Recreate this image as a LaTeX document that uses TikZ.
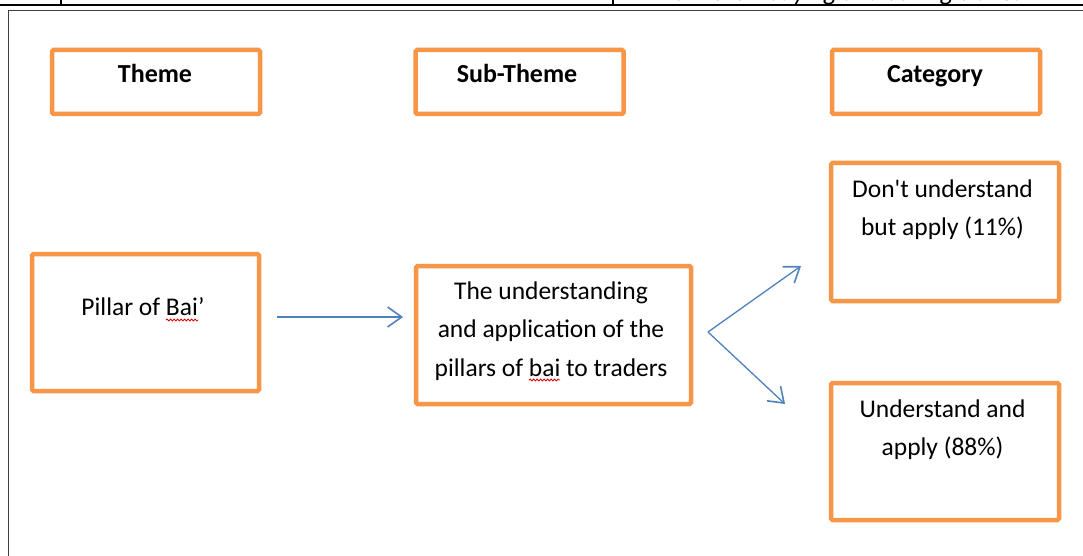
\documentclass[tikz,border=0pt]{standalone}
\usepackage{fontspec}
\setmainfont{Carlito}
\newfontfamily\rawcal{Carlito}
\usetikzlibrary{arrows.meta,decorations.pathmorphing}
\definecolor{boxorange}{HTML}{F79646}
\definecolor{arrowblue}{HTML}{4F81BD}
\definecolor{framegray}{HTML}{404040}
\tikzset{
  obox/.style={draw=boxorange,line width=4.5pt,rounded corners=1.5pt,inner sep=0pt},
  txt/.style={anchor=base,inner sep=0pt,font=\fontsize{25.5}{38.5}\selectfont},
  htxt/.style={anchor=base,inner sep=0pt,font=\fontsize{26}{38.5}\selectfont\bfseries},
  arr/.style={draw=arrowblue,line width=1.3pt,-{Straight Barb[length=14pt,width=20pt,line width=1.6pt]}},
  squig/.style={draw=red!85!black,line width=0.8pt,decorate,decoration={snake,amplitude=1pt,segment length=3.5pt}}
}
\begin{document}
\begin{tikzpicture}[x=1pt,y=-1pt]
\useasboundingbox (0,0) rectangle (1083,556);
\fill[white] (0,0) rectangle (1083,556);
\clip (0,0) rectangle (1083,556);
% table remnants at top
\draw[line width=2pt,black] (0,5.5) -- (1083,5.5);
\draw[line width=1.5pt,black] (61,-1) -- (61,5.5);
\draw[line width=1.5pt,black] (613,-1) -- (613,5.5);
\node[txt,anchor=base west,font=\fontsize{25.5}{30}\selectfont\itshape] (toptext) at (668,1) {it in their buying and selling transa};
% outer frame
\draw[framegray,line width=1.6pt] (8.5,600) -- (8.5,10.5) -- (1100,10.5);
% header boxes
\node[obox,minimum width=208pt,minimum height=64pt] (theme) at (156,82) {};
\node[obox,minimum width=208pt,minimum height=64pt] (subtheme) at (519.5,82) {};
\node[obox,minimum width=208pt,minimum height=64pt] (category) at (936,82) {};
\node[htxt] (themet) at (155,83) {Theme};
\node[htxt] (subthemet) at (517,83) {Sub-Theme};
\node[htxt] (categoryt) at (935,83) {Category};
% content boxes
\node[obox,minimum width=227pt,minimum height=137pt] (pillar) at (145.5,322.5) {};
\node[obox,minimum width=275pt,minimum height=138pt] (sub) at (553.5,335) {};
\node[obox,minimum width=228pt,minimum height=138pt] (cat1) at (945,232) {};
\node[obox,minimum width=228pt,minimum height=137pt] (cat2) at (945,451.5) {};
% texts
\node[txt] (pillart) at (143,315) {Pillar of Bai’};
\node[txt] (subt) at (551,299) {\parbox[t]{280pt}{\centering The understanding\\and application of the\\pillars of bai to traders}};
\node[txt] (cat1t) at (942.5,197) {\parbox[t]{225pt}{\centering Don{\rawcal'}t understand\\but apply (11\%)}};
\node[txt] (cat2t) at (942.5,417) {\parbox[t]{225pt}{\centering Understand and\\apply (88\%)}};
% spell-check squiggles
\draw[squig] (166,320) -- (198,320);
\draw[squig] (529,380) -- (560,380);
% arrows
\coordinate (a1s) at (277,317);
\coordinate (a1e) at (403,317);
\coordinate (fork) at (708,332);
\coordinate (up) at (801,266);
\coordinate (down) at (785,404);
\draw[arr] (a1s) -- (a1e);
\draw[arr] (fork) -- (up);
\draw[arr] (fork) -- (down);
\end{tikzpicture}
\end{document}
